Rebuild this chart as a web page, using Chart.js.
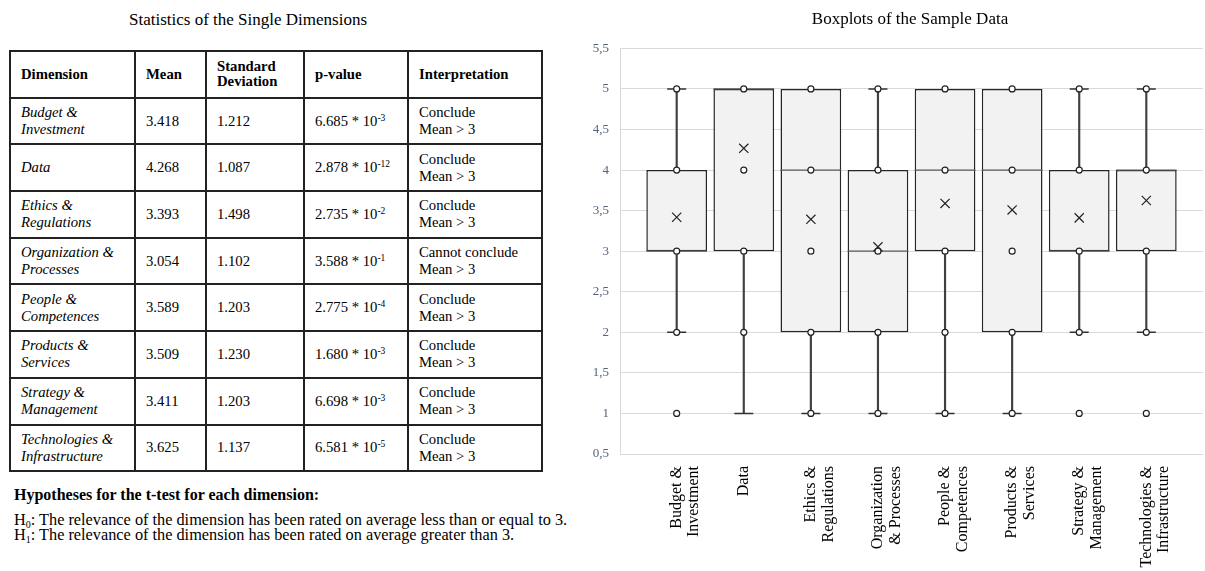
<!DOCTYPE html>
<html>
<head>
<meta charset="utf-8">
<script src="https://cdn.jsdelivr.net/npm/chart.js@4.4.1/dist/chart.umd.min.js"></script>
<style>
  html, body { margin:0; padding:0; background:#fff; overflow:hidden; width:1205px; height:571px; }
  body { position:relative; font-family:"Liberation Serif","Times New Roman",serif; color:#000; }
  #ltitle { position:absolute; left:0; top:10px; width:496px; text-align:center; font-size:17px; line-height:20px; }
  table { position:absolute; left:9px; top:50px; border-collapse:collapse; table-layout:fixed; font-size:14.7px; line-height:17px; }
  td, th { border:2px solid #222; padding:0 4px 0 10px; vertical-align:middle; text-align:left; height:44.7px; }
  th { font-weight:bold; line-height:15.5px; }
  td.dim { font-style:italic; }
  sup { font-size:9.5px; line-height:0; vertical-align:5px; }
  #hyp { position:absolute; left:14px; top:486px; font-size:16.3px; line-height:15px; }
  #hyp b { display:block; font-size:16px; line-height:18px; margin-bottom:8px; }
  sub { font-size:10px; line-height:0; vertical-align:-3px; }
  #chart { position:absolute; left:560px; top:0; }
</style>
</head>
<body>
<div id="ltitle">Statistics of the Single Dimensions</div>
<table id="stats">
  <colgroup><col style="width:125px"><col style="width:71px"><col style="width:98px"><col style="width:104px"><col style="width:134px"></colgroup>
  <thead><tr><th>Dimension</th><th>Mean</th><th>Standard<br>Deviation</th><th>p-value</th><th>Interpretation</th></tr></thead>
  <tbody id="tbody"></tbody>
</table>
<div id="hyp"><b>Hypotheses for the t-test for each dimension:</b>H<sub>0</sub>: The relevance of the dimension has been rated on average less than or equal to 3.<br>H<sub>1</sub>: The relevance of the dimension has been rated on average greater than 3.</div>
<canvas id="chart" width="700" height="571"></canvas>
<script>
// ---------- data ----------
const tableDimensions = [["Budget &","Investment"],["Data"],["Ethics &","Regulations"],["Organization &","Processes"],["People &","Competences"],["Products &","Services"],["Strategy &","Management"],["Technologies &","Infrastructure"]];
const tableMeans = ["3.418","4.268","3.393","3.054","3.589","3.509","3.411","3.625"];
const tableStdDev = ["1.212","1.087","1.498","1.102","1.203","1.230","1.203","1.137"];
const pMantissa = ["6.685","2.878","2.735","3.588","2.775","1.680","6.698","6.581"];
const pExponent = ["-3","-12","-2","-1","-4","-3","-3","-5"];
const interpretations = [["Conclude","Mean > 3"],["Conclude","Mean > 3"],["Conclude","Mean > 3"],["Cannot conclude","Mean > 3"],["Conclude","Mean > 3"],["Conclude","Mean > 3"],["Conclude","Mean > 3"],["Conclude","Mean > 3"]];

const categories = [["Budget &","Investment"],["Data"],["Ethics &","Regulations"],["Organization","& Processes"],["People &","Competences"],["Products &","Services"],["Strategy &","Management"],["Technologies &","Infrastructure"]];
const whiskerLow  = [2,1,1,1,1,1,2,2];
const q1          = [3,3,2,2,3,2,3,3];
const medians     = [3,5,4,3,4,4,3,4];
const q3          = [4,5,5,4,5,5,4,4];
const whiskerHigh = [5,5,5,5,5,5,5,5];
const means       = [3.418,4.268,3.393,3.054,3.589,3.509,3.411,3.625];
const samplePoints = [[1,2,3,4,5],[2,3,4,5],[1,2,3,4,5],[1,2,3,4,5],[1,2,3,4,5],[1,2,3,4,5],[1,2,3,4,5],[1,2,3,4,5]];
const yTicks = [0.5,1,1.5,2,2.5,3,3.5,4,4.5,5,5.5];

// ---------- table ----------
const tb = document.getElementById('tbody');
tableDimensions.forEach((d,i)=>{
  const tr = document.createElement('tr');
  tr.innerHTML = '<td class="dim">'+d.map(s=>s.replace('&','&amp;')).join('<br>')+'</td>'+
    '<td>'+tableMeans[i]+'</td><td>'+tableStdDev[i]+'</td>'+
    '<td>'+pMantissa[i]+' * 10<sup>'+pExponent[i]+'</sup></td>'+
    '<td>'+interpretations[i].map(s=>s.replace('>','&gt;')).join('<br>')+'</td>';
  tb.appendChild(tr);
});

// ---------- chart ----------
const idx = categories.map((c,i)=>i);
const boxFrac = 0.905;
const caps = [];
idx.forEach(i=>{
  if (whiskerHigh[i] > q3[i]) caps.push({x:i, y:whiskerHigh[i]});
  if (whiskerLow[i] < q1[i]) caps.push({x:i, y:whiskerLow[i]});
});
const pts = [];
samplePoints.forEach((arr,i)=>arr.forEach(v=>pts.push({x:i, y:v})));
const halfBox = ctx => {
  const s = ctx.chart.scales.x;
  return Math.abs(s.getPixelForValue(1) - s.getPixelForValue(0)) * boxFrac / 2;
};

new Chart(document.getElementById('chart'), {
  type: 'bar',
  data: {
    datasets: [
      { label:'whisker', data: idx.map(i=>({x:i, y:[whiskerLow[i], whiskerHigh[i]]})), backgroundColor:'#404040', barThickness:1.5, grouped:false, order:6 },
      { label:'box', data: idx.map(i=>({x:i, y:[q1[i], q3[i]]})), backgroundColor:'#f2f2f2', borderColor:'#262626', borderWidth:1.5, borderSkipped:false, categoryPercentage:1, barPercentage:boxFrac, grouped:false, order:5 },
      { type:'scatter', label:'median', data: idx.map(i=>({x:i, y:medians[i]})), pointStyle:'line', pointRadius: halfBox, borderColor:'#555', borderWidth:1.2, order:4 },
      { type:'scatter', label:'caps', data: caps, pointStyle:'line', pointRadius:9.5, borderColor:'#333', borderWidth:1.5, order:3 },
      { type:'scatter', label:'points', data: pts, pointStyle:'circle', pointRadius:3, backgroundColor:'#fff', borderColor:'#222', borderWidth:1.2, order:2 },
      { type:'scatter', label:'mean', data: idx.map(i=>({x:i, y:means[i]})), pointStyle:'crossRot', pointRadius:6.5, borderColor:'#222', borderWidth:1.2, order:1 }
    ]
  },
  options: {
    responsive:false,
    animation:false,
    events:[],
    layout:{ padding:0 },
    plugins:{
      legend:{ display:false },
      tooltip:{ enabled:false },
      title:{ display:true, text:'Boxplots of the Sample Data', color:'#000',
        font:{ family:'"Liberation Serif", serif', size:17, weight:'normal', lineHeight:1.2 },
        padding:{ top:9, bottom:19 } }
    },
    scales:{
      x:{ type:'linear', min:-0.845, max:7.845, offset:false,
        grid:{ display:false, offset:false }, border:{ display:false },
        afterBuildTicks: s => { s.ticks = idx.map(i=>({value:i})); },
        afterFit: s => { s.height = 117; },
        ticks:{ autoSkip:false, minRotation:90, maxRotation:90, padding:4, color:'#000',
          font:{ family:'"Liberation Serif", serif', size:16, lineHeight:1.1 },
          callback: v => categories[v] } },
      y:{ type:'linear', min:0.5, max:5.5,
        afterBuildTicks: s => { s.ticks = yTicks.map(v=>({value:v})); },
        afterFit: s => { s.width = 60; },
        grid:{ color:'#d9d9d9', lineWidth:1, drawTicks:false },
        border:{ display:true, color:'#d9d9d9', width:1 },
        ticks:{ padding:11, color:'#55637d', font:{ family:'"Liberation Serif", serif', size:13 },
          callback: v => String(v).replace('.', ',') } },
      y2:{ type:'linear', position:'right', display:true,
        grid:{ display:false }, border:{ display:false }, ticks:{ display:false },
        afterFit: s => { s.width = 57; } }
    }
  }
});
</script>
</body>
</html>
